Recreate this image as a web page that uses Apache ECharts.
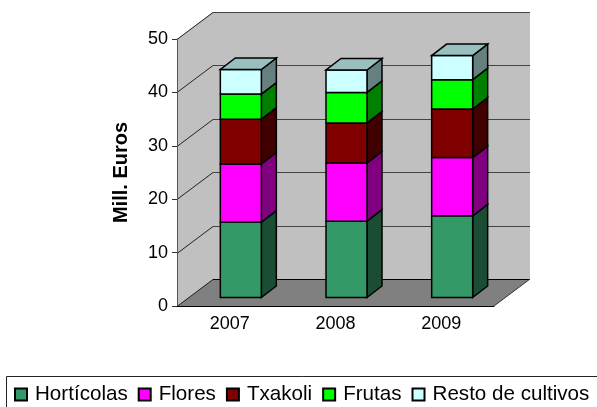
<!DOCTYPE html>
<html>
<head>
<meta charset="utf-8">
<script src="https://cdn.jsdelivr.net/npm/echarts@6/dist/echarts.min.js"></script>
<style>
  html, body { margin: 0; padding: 0; background: #fff; }
  #chart { width: 597px; height: 407px; }
</style>
</head>
<body>
<div id="chart"></div>
<script>
const years = ['2007', '2008', '2009'];
const yTicks = [0, 10, 20, 30, 40, 50];

const horticolas = [14.1, 14.3, 15.3];
const flores = [10.9, 10.9, 10.9];
const txakoli = [8.4, 7.5, 9.1];
const frutas = [4.7, 5.7, 5.5];
const resto = [4.6, 4.2, 4.5];

const crops = ['Hortícolas', 'Flores', 'Txakoli', 'Frutas', 'Resto de cultivos'];
const cropValues = [horticolas, flores, txakoli, frutas, resto];
const frontColors = ['#339966', '#FF00FF', '#800000', '#00FF00', '#CCFFFF'];
const sideColors = ['#1A4D33', '#800080', '#400000', '#008000', '#668080'];
const topColor = '#99BFBF';

// fake 3d: how far the back of the box sits from the front plane
const wallDx = 36, wallDy = -27;
const barDx = 15, barDy = -11.5;
const barFrontDx = 11, barFrontDy = -8.5;
const barRatio = 0.388;

function poly(points, fill, stroke, width) {
  return {
    type: 'polygon',
    shape: { points: points },
    style: { fill: fill, stroke: stroke || 'none', lineWidth: width || 0, lineJoin: 'miter' }
  };
}

function line(x1, y1, x2, y2, color, width) {
  return {
    type: 'line',
    shape: { x1: x1, y1: y1, x2: x2, y2: y2 },
    style: { stroke: color, lineWidth: width || 1 }
  };
}

function renderWalls(params, api) {
  const cs = params.coordSys;
  const left = cs.x, right = cs.x + cs.width;
  const y0 = api.coord([0, 0])[1], yTop = api.coord([0, 50])[1];
  const kids = [
    poly([[left, y0], [left + wallDx, y0 + wallDy], [left + wallDx, yTop + wallDy], [left, yTop]], '#C0C0C0'),
    poly([[left + wallDx, y0 + wallDy], [right + wallDx, y0 + wallDy], [right + wallDx, yTop + wallDy], [left + wallDx, yTop + wallDy]], '#C0C0C0'),
    poly([[left, y0], [right, y0], [right + wallDx, y0 + wallDy], [left + wallDx, y0 + wallDy]], '#808080')
  ];
  yTicks.forEach(function (t) {
    const y = Math.round(api.coord([0, t])[1]) + 0.5;
    kids.push(line(left, y, left + wallDx, y + wallDy, '#222', 1));
    kids.push(line(left + wallDx, y + wallDy, right + wallDx, y + wallDy, t === 0 ? '#000' : '#444', 1));
  });
  kids.push(line(right, y0, right + wallDx, y0 + wallDy, '#333', 1));
  return { type: 'group', children: kids, silent: true };
}

function renderBar(params, api) {
  const idx = api.value(0);
  const s = params.seriesIndex - 1;
  const w = api.size([1, 0])[0] * barRatio;
  const pBase = api.coord([idx, api.value(1)]);
  const pTop = api.coord([idx, api.value(2)]);
  const x1 = pBase[0] - w / 2 + barFrontDx, x2 = x1 + w;
  const yb = pBase[1] + barFrontDy, yt = pTop[1] + barFrontDy;
  const kids = [
    poly([[x2, yb], [x2 + barDx, yb + barDy], [x2 + barDx, yt + barDy], [x2, yt]], sideColors[s], '#000', 1.5),
    poly([[x1, yb], [x2, yb], [x2, yt], [x1, yt]], frontColors[s], '#000', 1.5)
  ];
  if (s === crops.length - 1) {
    kids.push(poly([[x1, yt], [x2, yt], [x2 + barDx, yt + barDy], [x1 + barDx, yt + barDy]], topColor, '#000', 1.5));
  }
  return { type: 'group', children: kids };
}

const running = years.map(function () { return 0; });
const barSeries = crops.map(function (name, s) {
  const rows = years.map(function (y, i) {
    const base = running[i];
    running[i] += cropValues[s][i];
    return [i, base, running[i]];
  });
  return {
    name: name,
    type: 'custom',
    z: 2,
    renderItem: renderBar,
    encode: { x: 0, y: 2 },
    itemStyle: { color: frontColors[s], borderColor: '#000', borderWidth: 1.5 },
    data: rows
  };
});

const chart = echarts.init(document.getElementById('chart'));
chart.setOption({
  animation: false,
  backgroundColor: '#fff',
  textStyle: { fontFamily: 'Liberation Sans, Arial, sans-serif', color: '#000' },
  grid: { left: 177, right: 103, top: 39, bottom: 101 },
  legend: {
    data: crops,
    left: 9,
    top: 380,
    padding: [4, 0, 0, 5],
    itemWidth: 12,
    itemHeight: 12,
    itemGap: 10,
    icon: 'rect',
    textStyle: { fontSize: 20.6, color: '#000', padding: [0, 0, 0, 3] }
  },
  xAxis: {
    type: 'category',
    data: years,
    z: 5,
    axisLine: { lineStyle: { color: '#000', width: 1 } },
    axisTick: { length: 5, lineStyle: { color: '#333' } },
    axisLabel: { fontSize: 18, margin: 9, color: '#000' },
    splitLine: { show: false }
  },
  yAxis: {
    type: 'value',
    min: 0,
    max: 50,
    interval: 10,
    z: 5,
    name: 'Mill. Euros',
    nameLocation: 'middle',
    nameGap: 46,
    nameRotate: 90,
    nameTextStyle: { fontSize: 20, fontWeight: 'bold', color: '#000' },
    axisLine: { show: true, lineStyle: { color: '#555', width: 1 } },
    axisTick: { show: true, length: 5, lineStyle: { color: '#333' } },
    axisLabel: { fontSize: 18, margin: 9, color: '#000' },
    splitLine: { show: false }
  },
  graphic: [{
    type: 'rect',
    shape: { x: 6.5, y: 376.5, width: 600, height: 40 },
    style: { fill: 'none', stroke: '#222', lineWidth: 1 },
    silent: true
  }],
  series: [{
    type: 'custom',
    z: 1,
    silent: true,
    renderItem: renderWalls,
    data: [[0, 0]],
    encode: { x: 0, y: 1 }
  }].concat(barSeries)
});
</script>
</body>
</html>
